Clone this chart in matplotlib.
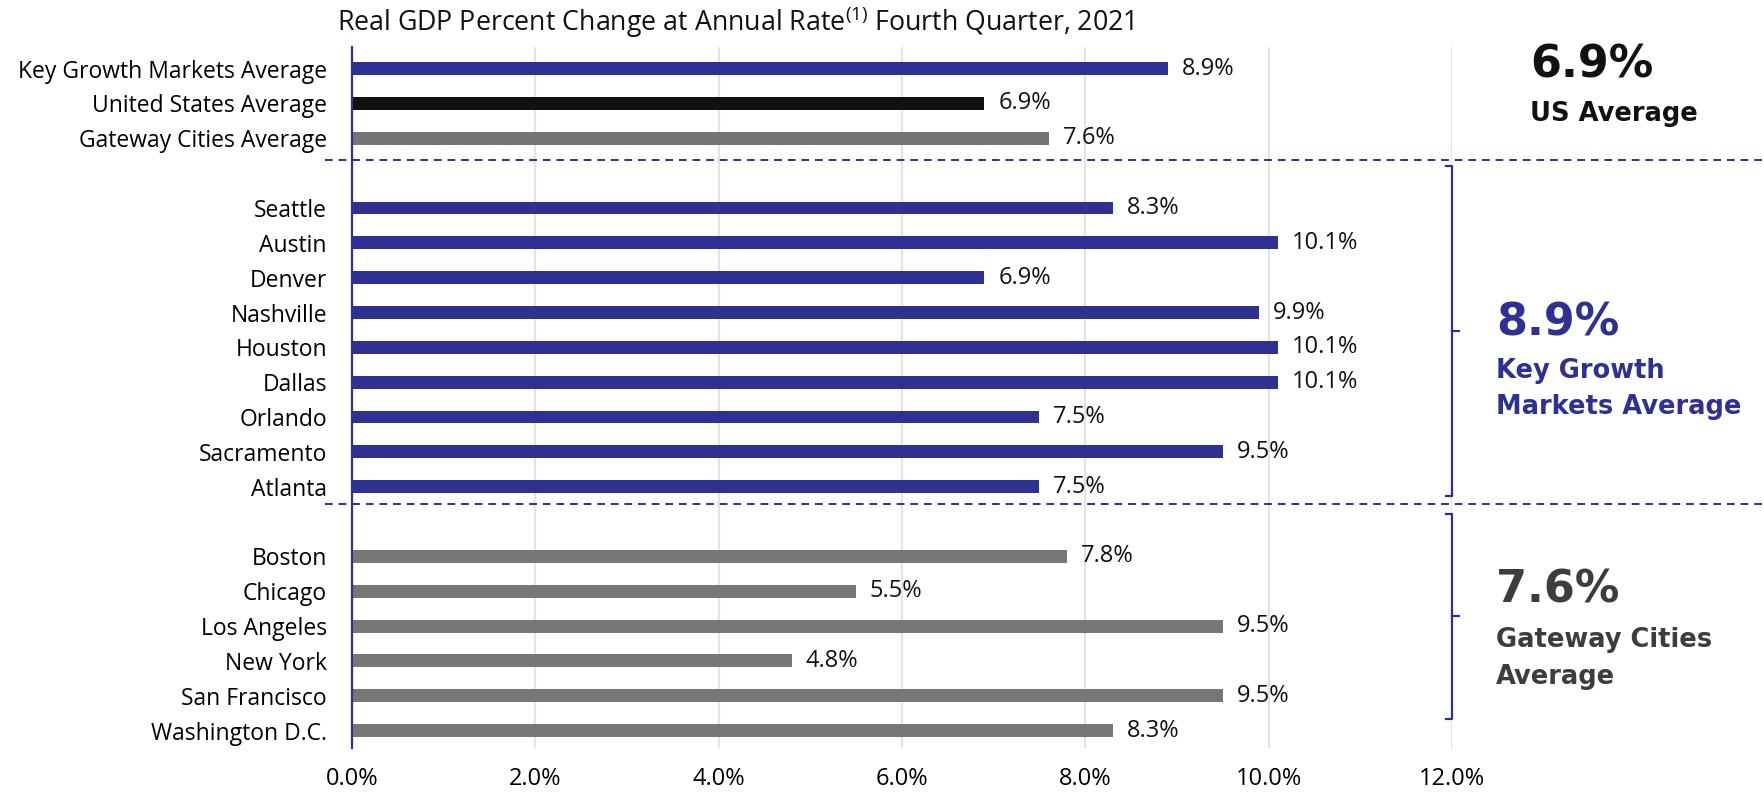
import matplotlib.pyplot as plt
import matplotlib.transforms as mtransforms
import numpy as np

plt.rcParams['font.family'] = ['Open Sans', 'DejaVu Sans']
plt.rcParams['mathtext.default'] = 'regular'

# data
avg_labels = ['Key Growth Markets Average', 'United States Average', 'Gateway Cities Average']
avg_values = [8.9, 6.9, 7.6]
growth_markets = ['Seattle', 'Austin', 'Denver', 'Nashville', 'Houston', 'Dallas',
                  'Orlando', 'Sacramento', 'Atlanta']
growth_values = [8.3, 10.1, 6.9, 9.9, 10.1, 10.1, 7.5, 9.5, 7.5]
gateway_cities = ['Boston', 'Chicago', 'Los Angeles', 'New York', 'San Francisco',
                  'Washington D.C.']
gateway_values = [7.8, 5.5, 9.5, 4.8, 9.5, 8.3]
x_ticks = [0, 2, 4, 6, 8, 10, 12]

navy = '#2E3192'
black = '#111111'
gray = '#777777'
avg_gray = '#757477'
dark = '#3D3D3D'

# row positions: three groups separated by one empty row
pos_avg = np.arange(len(avg_labels))
pos_growth = np.arange(len(growth_markets)) + 4
pos_gateway = np.arange(len(gateway_cities)) + 4 + len(growth_markets) + 1

fig = plt.figure(figsize=(17.64, 7.93), dpi=100)
ax = fig.add_axes([0.1995, 0.0567, 0.6236, 0.884])

bh = 0.37
ax.barh(pos_avg, avg_values, height=bh, color=[navy, black, avg_gray], zorder=3)
ax.barh(pos_growth, growth_values, height=bh, color=navy, zorder=3)
ax.barh(pos_gateway, gateway_values, height=bh, color=gray, zorder=3)

for p, v in zip(np.concatenate([pos_avg, pos_growth, pos_gateway]),
                avg_values + growth_values + gateway_values):
    ax.annotate(f'{v:.1f}%', (v, p), xytext=(10, 0), textcoords='offset points',
                va='center', ha='left', fontsize=17, color='#111111')

ax.set_xlim(0, 12)
ax.set_ylim(19.5, -0.62)
ax.set_xticks(x_ticks)
ax.set_xticklabels([f'{t:.1f}%' for t in x_ticks], fontsize=17)
ax.set_yticks(np.concatenate([pos_avg, pos_growth, pos_gateway]))
ax.set_yticklabels(avg_labels + growth_markets + gateway_cities, fontsize=16.5)
ax.tick_params(axis='both', length=0)
ax.tick_params(axis='y', pad=18)
ax.tick_params(axis='x', pad=14)
ax.xaxis.grid(True, color='#E3E3E3', lw=1.5, zorder=0)

for s in ['top', 'right', 'bottom']:
    ax.spines[s].set_visible(False)
ax.spines['left'].set_color(navy)
ax.spines['left'].set_linewidth(1.6)
ax.spines['left'].set_zorder(4)

# dashed separators across the whole figure
trans = mtransforms.blended_transform_factory(fig.transFigure, ax.transData)
for y in [2.61, 12.5]:
    ax.plot([0.184, 1.0], [y, y], transform=trans, color=navy, lw=1.4,
            ls=(0, (4, 3)), clip_on=False, zorder=5)

# brackets on the right
for y0, y1 in [(2.8, 12.28), (12.77, 18.67)]:
    ym = (y0 + y1) / 2
    ax.plot([11.93, 12.0, 12.0, 11.93], [y0, y0, y1, y1], color=navy, lw=1.6,
            clip_on=False, zorder=5)
    ax.plot([12.0, 12.08], [ym, ym], color=navy, lw=1.6, clip_on=False, zorder=5)

# side annotations
big = dict(fontsize=32, fontweight='bold', va='center', ha='left',
           family='DejaVu Sans', clip_on=False)
small = dict(fontsize=18.5, fontweight='bold', va='center', ha='left',
             family='DejaVu Sans', clip_on=False)
ax.text(12.85, -0.1, '6.9%', color='#111111', **big)
ax.text(12.85, 1.31, 'US Average', color='#111111', **small)
ax.text(12.48, 7.3, '8.9%', color=navy, **big)
ax.text(12.48, 8.67, 'Key Growth', color=navy, **small)
ax.text(12.48, 9.72, 'Markets Average', color=navy, **small)
ax.text(12.48, 14.95, '7.6%', color=dark, **big)
ax.text(12.48, 16.4, 'Gateway Cities', color=dark, **small)
ax.text(12.48, 17.45, 'Average', color=dark, **small)

fig.text(0.191, 0.972, 'Real GDP Percent Change at Annual Rate$^{(1)}$ Fourth Quarter, 2021',
         fontsize=19.3, ha='left', va='center', color='#111111')

fig.savefig('out.png', dpi=100)
